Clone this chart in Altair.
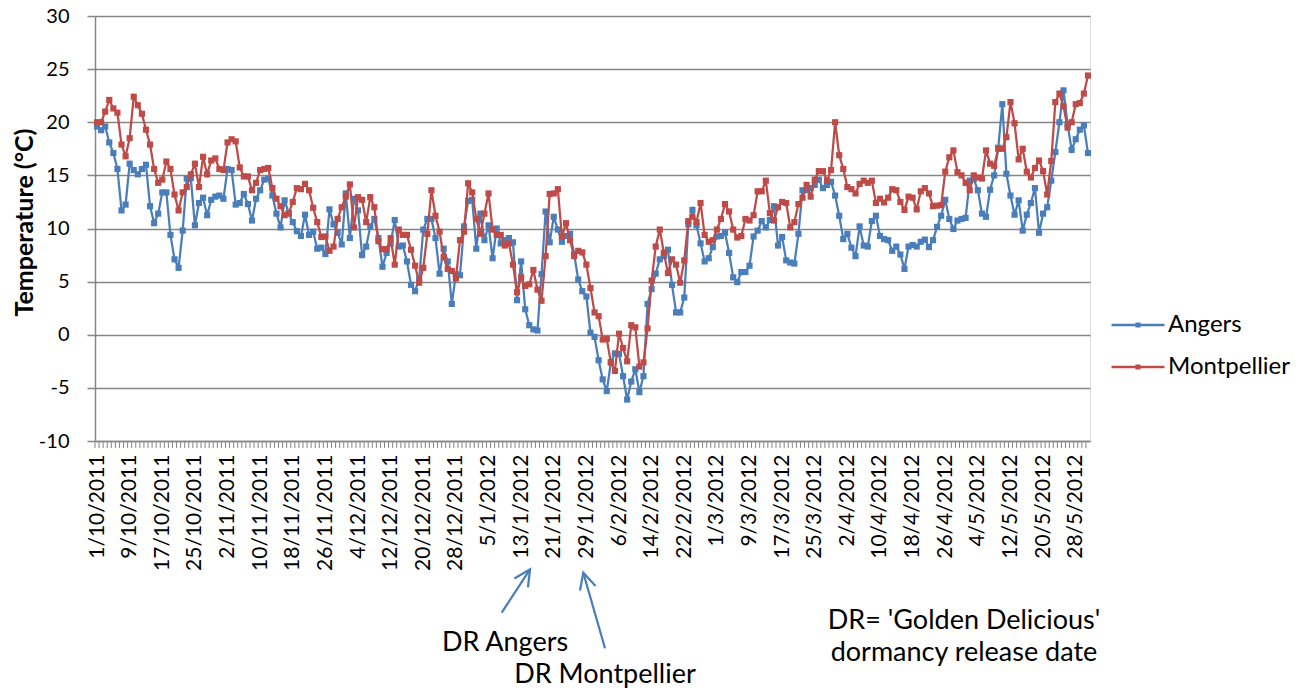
import altair as alt
import pandas as pd

# ---------------- data ----------------
dates = [f"{d.day}/{d.month}/{d.year}" for d in pd.date_range("2011-10-01", "2012-05-31", freq="D")]
label_dates = dates[::8]

angers = [
    19.6, 19.25, 19.6, 18.1, 17.1, 15.6, 11.7, 12.25, 16.1, 15.5,
    15.1, 15.6, 16.0, 12.1, 10.5, 11.4, 13.4, 13.4, 9.4, 7.1,
    6.3, 9.8, 14.7, 14.75, 10.3, 12.4, 12.9, 11.25, 12.7, 13.0,
    13.1, 12.8, 15.6, 15.5, 12.25, 12.4, 13.25, 12.3, 10.75, 12.8,
    13.6, 14.6, 14.7, 13.1, 11.4, 10.1, 12.65, 11.45, 10.6, 9.75,
    9.3, 11.3, 9.4, 9.7, 8.1, 8.2, 7.6, 11.8, 10.4, 9.6,
    8.5, 13.3, 9.1, 12.8, 11.7, 7.5, 8.3, 10.2, 10.9, 9.1,
    6.4, 7.7, 8.6, 10.8, 8.3, 8.4, 6.9, 4.7, 4.1, 5.3,
    9.9, 10.9, 10.9, 9.1, 5.75, 8.1, 6.9, 2.9, 5.7, 5.6,
    10.2, 12.6, 12.7, 8.1, 11.4, 8.9, 10.3, 7.2, 10.0, 8.6,
    8.9, 9.1, 8.7, 3.25, 6.9, 2.4, 0.9, 0.5, 0.4, 5.7,
    11.6, 8.7, 11.1, 9.9, 8.75, 9.3, 9.5, 7.6, 5.2, 4.1,
    3.6, 0.2, -0.2, -2.4, -4.2, -5.3, -2.6, -1.75, -1.8, -3.9,
    -6.1, -4.4, -3.25, -5.4, -3.9, 2.9, 4.3, 5.75, 7.1, 7.4,
    8.0, 4.7, 2.1, 2.1, 3.5, 10.4, 11.75, 10.3, 8.6, 6.9,
    7.2, 8.25, 9.25, 9.3, 9.6, 7.7, 5.4, 4.95, 5.9, 5.9,
    6.5, 9.25, 9.8, 10.7, 10.1, 10.8, 12.1, 8.4, 9.2, 7.0,
    6.8, 6.7, 9.5, 13.6, 13.6, 13.8, 14.1, 14.6, 13.8, 14.1,
    14.4, 13.1, 11.2, 9.0, 9.5, 8.2, 7.4, 10.2, 8.4, 8.3,
    10.7, 11.2, 9.3, 9.0, 8.9, 7.9, 8.3, 7.55, 6.2, 8.3,
    8.45, 8.3, 8.75, 8.95, 8.25, 8.9, 10.15, 11.2, 12.7, 10.9,
    9.95, 10.75, 10.9, 11.0, 14.5, 14.65, 13.6, 11.4, 11.1, 13.65,
    15.0, 17.6, 21.7, 15.15, 13.1, 11.3, 12.65, 9.8, 11.3, 12.4,
    13.8, 9.6, 11.4, 12.0, 14.5, 17.2, 20.0, 23.0, 19.8, 17.4,
    18.4, 19.3, 19.7, 17.1,
]

montpellier = [
    20.0, 20.0, 21.0, 22.1, 21.3, 20.9, 17.9, 16.8, 18.5, 22.4,
    21.6, 20.8, 19.3, 17.9, 15.6, 14.3, 14.6, 16.3, 15.6, 13.2,
    11.7, 13.4, 13.9, 15.1, 16.1, 13.9, 16.75, 15.1, 16.4, 16.6,
    15.6, 15.5, 18.1, 18.4, 18.2, 15.75, 14.9, 14.9, 13.6, 14.3,
    15.5, 15.6, 15.7, 13.8, 12.8, 12.1, 11.25, 11.4, 12.5, 13.8,
    13.7, 14.2, 13.6, 11.95, 10.6, 9.2, 9.25, 7.9, 8.3, 10.9,
    12.0, 13.0, 14.15, 10.1, 12.95, 12.7, 10.6, 12.95, 12.0, 8.8,
    8.05, 8.05, 9.1, 6.6, 9.9, 9.4, 9.4, 8.0, 6.5, 4.9,
    6.3, 9.5, 13.6, 11.2, 9.7, 7.3, 6.2, 6.0, 5.3, 8.9,
    9.7, 14.25, 13.4, 10.9, 9.5, 11.4, 13.3, 9.9, 9.4, 9.4,
    8.4, 8.6, 6.6, 4.0, 5.4, 4.6, 4.75, 6.1, 4.25, 3.2,
    7.4, 13.25, 13.3, 13.7, 9.25, 10.5, 8.9, 7.4, 7.9, 7.75,
    6.6, 4.4, 2.1, 1.75, -0.45, -0.4, -2.6, -3.4, 0.1, -1.25,
    -2.5, 0.9, 0.7, -3.0, -2.6, 0.6, 5.1, 8.3, 9.9, 7.7,
    5.8, 7.1, 6.6, 4.9, 7.0, 10.7, 11.1, 10.6, 12.4, 9.4,
    8.75, 8.9, 9.9, 10.9, 12.3, 11.6, 9.9, 9.15, 9.3, 10.9,
    10.75, 11.25, 13.5, 13.5, 14.5, 11.45, 10.75, 12.0, 12.5, 12.4,
    10.1, 10.6, 12.3, 12.9, 14.1, 13.0, 14.6, 15.4, 15.4, 14.5,
    15.5, 20.0, 16.9, 15.6, 13.9, 13.7, 13.3, 14.2, 14.5, 14.3,
    14.5, 12.4, 12.8, 12.45, 12.9, 13.7, 13.6, 12.5, 11.75, 13.0,
    12.9, 11.8, 13.5, 13.8, 13.3, 12.1, 12.15, 12.2, 15.35, 16.7,
    17.35, 15.3, 15.0, 14.3, 13.6, 15.0, 14.8, 14.7, 17.35, 16.1,
    15.9, 17.5, 17.5, 18.6, 21.9, 19.9, 16.5, 17.5, 15.35, 14.8,
    15.7, 16.4, 15.4, 13.2, 16.35, 21.9, 22.7, 21.5, 19.5, 20.0,
    21.7, 21.8, 22.7, 24.4,
]

series_names = ["Angers", "Montpellier"]
series_colors = ["#4A7EBB", "#BE4B48"]
y_ticks = [-10, -5, 0, 5, 10, 15, 20, 25, 30]

# ---------------- tables ----------------
rows = []
for name, vals in zip(series_names, [angers, montpellier]):
    for d, v in zip(dates, vals):
        rows.append({"date": d, "temp": v, "city": name})
df = pd.DataFrame(rows)
ticks_df = pd.DataFrame({"date": dates})

FONT = "Lato"
GRID = "#868686"
W, H = 995, 425

legend = alt.Legend(
    title=None, orient="none", legendX=1015, legendY=281, padding=0,
    symbolType="M-1,0H1M-0.05,-0.05H0.05V0.05H-0.05Z",
    symbolSize=2809, symbolStrokeWidth=2.5, rowPadding=2,
    labelFont=FONT, labelFontSize=24, labelColor="black", labelOffset=2,
)

xenc = alt.X(
    "date:O",
    scale=alt.Scale(type="point", padding=0.5, domain=dates),
    axis=alt.Axis(
        values=label_dates, labelAngle=270, labelFont=FONT, labelFontSize=21,
        labelColor="black", labelPadding=13, ticks=False, domainColor=GRID,
        domainWidth=1.5, grid=False, title=None, labelOverlap=False,
    ),
)
yenc = alt.Y(
    "temp:Q",
    scale=alt.Scale(domain=[-10, 30], nice=False, zero=False),
    axis=alt.Axis(
        values=y_ticks, grid=True, gridColor=GRID, gridWidth=1.5,
        domainColor=GRID, domainWidth=1.5, tickColor=GRID, tickWidth=1.5,
        tickSize=8, labelFont=FONT, labelFontSize=20, labelColor="black",
        labelPadding=18, labelExpr="datum.value + ''",
        title="Temperature (°C)", titleFont=FONT,
        titleFontSize=25, titleFontWeight="bold", titleColor="black",
        titleX=-71, titleY=206, titleAngle=270, titleAlign="center",
        titleBaseline="middle",
    ),
)
color = alt.Color(
    "city:N",
    scale=alt.Scale(domain=series_names, range=series_colors),
    legend=legend,
)

base = alt.Chart(df).encode(x=xenc, y=yenc, color=color)

layers = []
for name in series_names:
    sub = base.transform_filter(alt.datum.city == name)
    layers.append(sub.mark_line(strokeWidth=2.25))
    layers.append(sub.mark_point(shape="square", filled=True, size=38, opacity=1))

minor_ticks = alt.Chart(ticks_df).mark_rule(color=GRID, strokeWidth=1, xOffset=-2.04).encode(
    x=alt.X("date:O", scale=alt.Scale(type="point", padding=0.5, domain=dates)),
    y=alt.value(H + 1), y2=alt.value(H + 7),
)

one = pd.DataFrame({"k": [0]})
ARROW = "#4A7EBB"
arrow_lines = alt.Chart(one).mark_rule(color=ARROW, strokeWidth=2.25, clip=False)
arrow1 = arrow_lines.encode(x=alt.value(406.7), x2=alt.value(435), y=alt.value(596.7), y2=alt.value(553.3))
arrow2 = arrow_lines.encode(x=alt.value(510), x2=alt.value(488.3), y=alt.value(632.3), y2=alt.value(556.7))
head = "M-0.45,0.9L0,0L0.45,0.9"
head1 = alt.Chart(one).mark_point(shape=head, filled=False, size=1296, color=ARROW, strokeWidth=2.25,
                                  angle=33, opacity=1).encode(x=alt.value(435), y=alt.value(553.3))
head2 = alt.Chart(one).mark_point(shape=head, filled=False, size=1296, color=ARROW, strokeWidth=2.25,
                                  angle=344, opacity=1).encode(x=alt.value(488.3), y=alt.value(556.7))

txt = dict(font=FONT, fontSize=27, color="black", align="center", baseline="alphabetic")
t1 = alt.Chart(one).mark_text(**txt).encode(x=alt.value(410), y=alt.value(635), text=alt.value("DR Angers"))
t2 = alt.Chart(one).mark_text(**txt).encode(x=alt.value(510), y=alt.value(667), text=alt.value("DR Montpellier"))
t3 = alt.Chart(one).mark_text(lineHeight=32, **txt).encode(
    x=alt.value(869), y=alt.value(613),
    text=alt.value(["DR= 'Golden Delicious'", "dormancy release date"]),
)

chart = alt.layer(minor_ticks, *layers, arrow1, arrow2, head1, head2, t1, t2, t3).properties(
    width=W, height=H,
    padding={"left": 87, "top": 8, "right": 1291 - 87 - W, "bottom": 680 - 8 - H},
    autosize=alt.AutoSizeParams(type="none"),
).configure_view(strokeWidth=0).configure(font=FONT)

chart.save("out.html", embed_options={"renderer": "svg", "actions": False})
